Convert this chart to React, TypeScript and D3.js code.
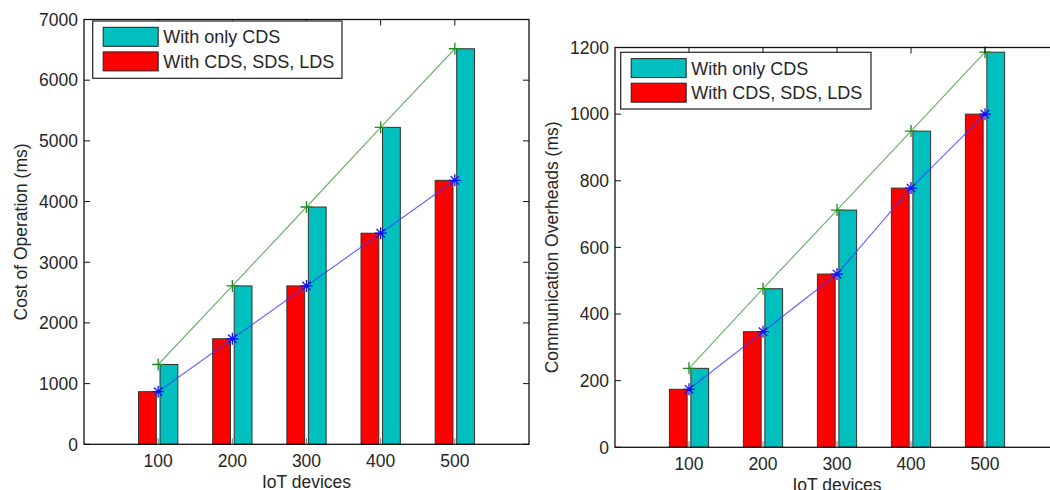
import React from "react";
import * as d3 from "d3";

// IoT devices on the x axis
const devices = [100, 200, 300, 400, 500];

// left panel: cost of operation (ms)
const costOnlyCDS = [1315, 2610, 3910, 5222, 6518];
const costAllDS = [867, 1739, 2610, 3478, 4350];
const costTicks = [0, 1000, 2000, 3000, 4000, 5000, 6000, 7000];

// right panel: communication overheads (ms)
const overheadOnlyCDS = [237, 476, 712, 949, 1186];
const overheadAllDS = [174, 347, 520, 778, 1000];
const overheadTicks = [0, 200, 400, 600, 800, 1000, 1200];

const legendLabels = ["With only CDS", "With CDS, SDS, LDS"];

const CYAN = "#00bfbf";
const RED = "#ff0000";
const FONT = "'Liberation Sans', Arial, sans-serif";
const TEXT = "#262626";

type PanelProps = {
  left: number;
  right: number;
  top: number;
  bottom: number;
  yMax: number;
  yTicks: number[];
  onlyCDS: number[];
  allDS: number[];
  yLabel: string;
  yLabelX: number;
  legend: { x: number; y: number; w: number; h: number };
};

function Panel(p: PanelProps) {
  const x = d3.scaleLinear().domain([0, 600]).range([p.left, p.right]);
  const y = d3.scaleLinear().domain([0, p.yMax]).range([p.bottom, p.top]);
  const tick = 6;

  const line = d3
    .line<number>()
    .x((_, i) => x(devices[i]))
    .y((d) => y(d));

  const starPath = "M-6,0H6M0,-6V6M-4.2,-4.2L4.2,4.2M-4.2,4.2L4.2,-4.2";
  const plusPath = "M-6,0H6M0,-6V6";

  const lg = p.legend;
  const swW = 55;
  const swH = 19;

  return (
    <g>
      {/* bars */}
      {devices.map((d, i) => (
        <g key={d}>
          <rect
            x={x(d - 26.5)}
            width={x(d - 2.5) - x(d - 26.5)}
            y={y(p.allDS[i])}
            height={y(0) - y(p.allDS[i])}
            fill={RED}
            stroke="#333"
            strokeWidth={1}
          />
          <rect
            x={x(d + 2.5)}
            width={x(d + 26.5) - x(d + 2.5)}
            y={y(p.onlyCDS[i])}
            height={y(0) - y(p.onlyCDS[i])}
            fill={CYAN}
            stroke="#333"
            strokeWidth={1}
          />
        </g>
      ))}

      {/* lines through bar tops */}
      <path d={line(p.onlyCDS) || ""} fill="none" stroke="#4a9e4a" strokeWidth={1.2} opacity={0.8} />
      <path d={line(p.allDS) || ""} fill="none" stroke="#3a3aff" strokeWidth={1.2} opacity={0.75} />
      {p.onlyCDS.map((v, i) => (
        <path key={"g" + i} d={plusPath} transform={`translate(${x(devices[i])},${y(v)})`} stroke="#1e8c1e" strokeWidth={1.3} />
      ))}
      {p.allDS.map((v, i) => (
        <path key={"b" + i} d={starPath} transform={`translate(${x(devices[i])},${y(v)})`} stroke="#1010ff" strokeWidth={1.3} />
      ))}

      {/* axes box */}
      <rect x={p.left} y={p.top} width={p.right - p.left} height={p.bottom - p.top} fill="none" stroke="#111" strokeWidth={1.3} />

      {/* y ticks */}
      {p.yTicks.map((t) => (
        <g key={"y" + t}>
          <line x1={p.left} x2={p.left + tick} y1={y(t)} y2={y(t)} stroke="#111" />
          <line x1={p.right} x2={p.right - tick} y1={y(t)} y2={y(t)} stroke="#111" />
          <text x={p.left - 6} y={y(t)} dy="0.36em" textAnchor="end" fontSize={17.5} fill={TEXT} fontFamily={FONT}>
            {t}
          </text>
        </g>
      ))}

      {/* x ticks */}
      {devices.map((d) => (
        <g key={"x" + d}>
          <line x1={x(d)} x2={x(d)} y1={p.bottom} y2={p.bottom - tick} stroke="#777" />
          <line x1={x(d)} x2={x(d)} y1={p.top} y2={p.top + tick} stroke="#111" />
          <text x={x(d)} y={p.bottom + 22.5} textAnchor="middle" fontSize={17.5} fill={TEXT} fontFamily={FONT}>
            {d}
          </text>
        </g>
      ))}

      <text x={x(300)} y={p.bottom + 43.5} textAnchor="middle" fontSize={17.5} fill={TEXT} fontFamily={FONT}>
        IoT devices
      </text>
      <text
        transform={`translate(${p.yLabelX},${(p.top + p.bottom) / 2}) rotate(-90)`}
        dy="0.36em"
        textAnchor="middle"
        fontSize={17.5}
        fill={TEXT}
        fontFamily={FONT}
      >
        {p.yLabel}
      </text>

      {/* legend */}
      <rect x={lg.x} y={lg.y} width={lg.w} height={lg.h} fill="#fff" stroke="#222" strokeWidth={1.2} />
      {[CYAN, RED].map((c, i) => (
        <g key={"l" + i}>
          <rect x={lg.x + 10.5} y={lg.y + 6.3 + i * 24.6} width={swW} height={swH} fill={c} stroke="#222" />
          <text
            x={lg.x + 70.5}
            y={lg.y + 6.3 + i * 24.6 + swH / 2}
            dy="0.36em"
            fontSize={18}
            fill={TEXT}
            fontFamily={FONT}
          >
            {legendLabels[i]}
          </text>
        </g>
      ))}
    </g>
  );
}

export default function App() {
  return (
    <svg
      width={1050}
      height={490}
      style={{ position: "absolute", left: 0, top: 0, background: "#fff", display: "block" }}
    >
      <Panel
        left={84}
        right={529}
        top={19.5}
        bottom={444.3}
        yMax={7000}
        yTicks={costTicks}
        onlyCDS={costOnlyCDS}
        allDS={costAllDS}
        yLabel="Cost of Operation (ms)"
        yLabelX={21}
        legend={{ x: 92.7, y: 21, w: 249.3, h: 57.3 }}
      />
      <Panel
        left={615}
        right={1059}
        top={47.5}
        bottom={447.3}
        yMax={1200}
        yTicks={overheadTicks}
        onlyCDS={overheadOnlyCDS}
        allDS={overheadAllDS}
        yLabel="Communication Overheads (ms)"
        yLabelX={551.5}
        legend={{ x: 620.7, y: 52.3, w: 250.3, h: 56.7 }}
      />
    </svg>
  );
}
